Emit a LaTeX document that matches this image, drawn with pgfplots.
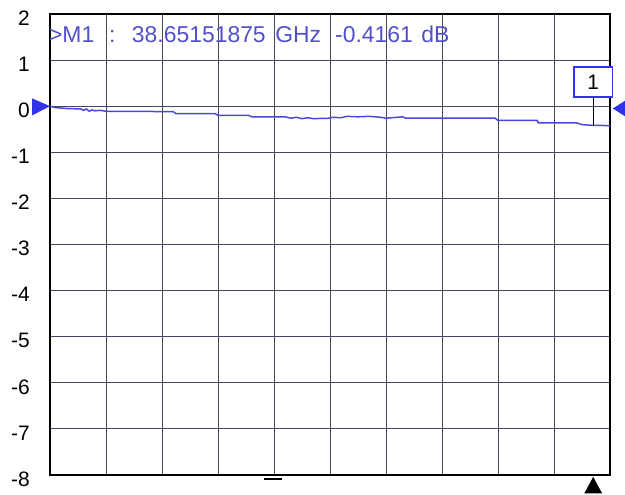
\documentclass[border=0pt]{standalone}
\usepackage{pgfplots}
\pgfplotsset{compat=1.18}
\usepackage{fontspec}
\setmainfont{Liberation Sans}
\definecolor{trace}{RGB}{72,72,220}
\definecolor{mtext}{RGB}{80,80,200}
\definecolor{gridc}{RGB}{70,70,95}
\definecolor{tri}{RGB}{50,50,235}
\begin{document}
\begin{tikzpicture}
\useasboundingbox (-50bp,-20bp) rectangle (575bp,475bp);
\begin{axis}[
  at={(0,0)}, anchor=south west,
  scale only axis, width=560bp, height=461bp,
  xmin=0, xmax=10, ymin=-8, ymax=2,
  xtick={0,...,10}, xticklabels={},
  ytick={-8,...,2},
  yticklabels={-8,-7,-6,-5,-4,-3,-2,-1,0,1,2},
  yticklabel style={anchor=east, inner sep=0pt, xshift=-20bp, yshift=-4bp, font=\fontsize{21}{24}\selectfont},
  major tick length=0pt,
  grid=major,
  major grid style={draw=gridc, line width=1bp},
  axis line style={draw=black, line width=1.6bp},
  clip=false,
]
\addplot[trace, line width=1.5bp] coordinates {
(0,0.0) (0.1,-0.03) (0.3,-0.05) (0.55,-0.06) (0.6,-0.09) (0.65,-0.06) (0.7,-0.11) (0.75,-0.08) (0.8,-0.1) (0.9,-0.09) (1.0,-0.11) (1.5,-0.11) (2.2,-0.12) (2.25,-0.16) (2.95,-0.16) (3.0,-0.2) (3.55,-0.2) (3.6,-0.23) (4.2,-0.23) (4.3,-0.26) (4.4,-0.24) (4.5,-0.27) (4.6,-0.25) (4.7,-0.27) (5.0,-0.26) (5.05,-0.24) (5.2,-0.25) (5.3,-0.22) (5.5,-0.23) (5.7,-0.22) (5.9,-0.24) (6.0,-0.26) (6.3,-0.23) (6.35,-0.26) (7.95,-0.26) (8.0,-0.31) (8.7,-0.31) (8.72,-0.36) (9.4,-0.36) (9.5,-0.4) (9.7,-0.4161) (10,-0.42)
};
% marker annotation
\draw[black, line width=1.3bp] (axis cs:9.7,-0.4161) -- (axis cs:9.7,0.2);
\draw[tri, line width=1.4bp, fill=white] (axis cs:9.36,0.2) rectangle (axis cs:10.04,0.85);
\node[font=\fontsize{21}{24}\selectfont, black] at (axis cs:9.70,0.52) {1};
% reference level triangles
\fill[tri] (axis cs:-0.32,0.17) -- (axis cs:0,0) -- (axis cs:-0.32,-0.2) -- cycle;
\fill[tri] (axis cs:10.27,0.12) -- (axis cs:10.05,-0.05) -- (axis cs:10.27,-0.22) -- cycle;
% bottom indicators
\fill[black] (axis cs:9.7,-8.04) -- (axis cs:9.86,-8.4) -- (axis cs:9.54,-8.4) -- cycle;
\draw[black, line width=2.5bp] (axis cs:3.82,-8.09) -- (axis cs:4.15,-8.09);
% marker readout
\begin{scope}[every node/.style={font=\fontsize{23}{27}\selectfont, text=mtext, inner sep=0pt, anchor=base west}]
\node at (axis cs:-0.02,1.39) {>M1};
\node at (axis cs:1.05,1.39) {:};
\node at (axis cs:1.46,1.39) {38.65151875};
\node at (axis cs:4.02,1.39) {GHz};
\node at (axis cs:5.09,1.39) {-0.4161};
\node at (axis cs:6.63,1.39) {dB};
\end{scope}
\end{axis}
\end{tikzpicture}
\end{document}
